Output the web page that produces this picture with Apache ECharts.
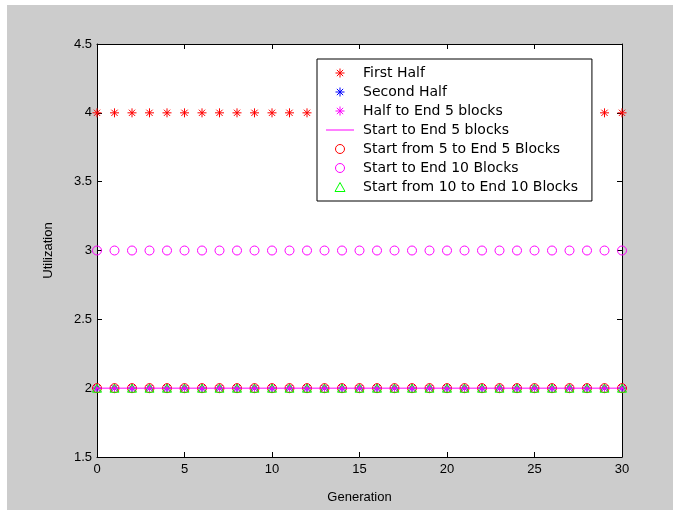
<!DOCTYPE html>
<html>
<head>
<meta charset="utf-8">
<script src="https://cdn.jsdelivr.net/npm/echarts@6/dist/echarts.min.js"></script>
<style>
  body { margin: 0; background: #fff; }
  #main { position: absolute; left: 7px; top: 5px; width: 666px; height: 505px; }
</style>
</head>
<body>
<div id="main"></div>
<script>
// data
var generations = [0,1,2,3,4,5,6,7,8,9,10,11,12,13,14,15,16,17,18,19,20,21,22,23,24,25,26,27,28,29,30];
var firstHalf       = [4,4,4,4,4,4,4,4,4,4,4,4,4,4,4,4,4,4,4,4,4,4,4,4,4,4,4,4,4,4,4];
var secondHalf      = [2,2,2,2,2,2,2,2,2,2,2,2,2,2,2,2,2,2,2,2,2,2,2,2,2,2,2,2,2,2,2];
var halfToEnd5      = [2,2,2,2,2,2,2,2,2,2,2,2,2,2,2,2,2,2,2,2,2,2,2,2,2,2,2,2,2,2,2];
var startToEnd5     = [2,2,2,2,2,2,2,2,2,2,2,2,2,2,2,2,2,2,2,2,2,2,2,2,2,2,2,2,2,2,2];
var from5ToEnd5     = [2,2,2,2,2,2,2,2,2,2,2,2,2,2,2,2,2,2,2,2,2,2,2,2,2,2,2,2,2,2,2];
var startToEnd10    = [3,3,3,3,3,3,3,3,3,3,3,3,3,3,3,3,3,3,3,3,3,3,3,3,3,3,3,3,3,3,3];
var from10ToEnd10   = [2,2,2,2,2,2,2,2,2,2,2,2,2,2,2,2,2,2,2,2,2,2,2,2,2,2,2,2,2,2,2];
var seriesNames = ['First Half', 'Second Half', 'Half to End 5 blocks', 'Start to End 5 blocks',
  'Start from 5 to End 5 Blocks', 'Start to End 10 Blocks', 'Start from 10 to End 10 Blocks'];
var xTicks = [0, 5, 10, 15, 20, 25, 30];
var yTicks = [1.5, 2, 2.5, 3, 3.5, 4, 4.5];

var star = 'path://M5,0L5,10M0,5L10,5M1.5,1.5L8.5,8.5M1.5,8.5L8.5,1.5';
var tri = 'path://M5,0L10,9L0,9Z';

function pairs(ys) {
  return generations.map(function (g, i) { return [g, ys[i]]; });
}

function markers(name, ys, symbol, color) {
  return {
    name: name,
    type: 'scatter',
    data: pairs(ys),
    symbol: symbol,
    symbolSize: 9,
    symbolKeepAspect: true,
    clip: false,
    itemStyle: { color: 'none', borderColor: color, borderWidth: 1, opacity: 1 },
    emphasis: { disabled: true }
  };
}

var myChart = echarts.init(document.getElementById('main'));

var axisCommon = {
  type: 'value',
  axisLine: { show: true, onZero: false, lineStyle: { color: '#000', width: 1 } },
  axisTick: { show: true, inside: true, length: 5, lineStyle: { color: '#000' } },
  splitLine: { show: false }
};

var legendData = seriesNames.map(function (n, i) {
  if (i === 3) {
    return { name: n, icon: 'path://M0,0L28,0L28,1L0,1Z',
      itemStyle: { color: '#ff00ff', borderWidth: 0 } };
  }
  return { name: n };
});

var option = {
  backgroundColor: '#cccccc',
  animation: false,
  textStyle: { fontFamily: 'Liberation Sans' },
  grid: {
    left: 90, top: 39, right: 51, bottom: 53,
    show: true, backgroundColor: '#fff', borderWidth: 0
  },
  legend: {
    orient: 'vertical',
    left: 310, top: 54,
    data: legendData,
    backgroundColor: '#fff',
    borderColor: '#000',
    borderWidth: 1,
    borderRadius: 0,
    padding: [7, 14, 7, 9],
    itemWidth: 28,
    itemHeight: 9,
    itemGap: 5,
    itemStyle: { borderWidth: 1 },
    textStyle: { fontFamily: 'DejaVu Sans', fontSize: 14, lineHeight: 14, color: '#000', padding: [0, 0, 0, 4] },
    selectedMode: false
  },
  xAxis: [
    Object.assign({}, axisCommon, {
      position: 'bottom', min: 0, max: 30, interval: 5,
      name: 'Generation', nameLocation: 'middle', nameGap: 34,
      nameTextStyle: { color: '#000', fontSize: 13 },
      axisLabel: { color: '#000', fontSize: 13, margin: 6,
        formatter: function (v) { return xTicks.indexOf(v) >= 0 ? String(v) : ''; } }
    }),
    Object.assign({}, axisCommon, {
      position: 'top', min: 0, max: 30, interval: 5,
      axisLabel: { show: false }
    })
  ],
  yAxis: [
    Object.assign({}, axisCommon, {
      position: 'left', min: 1.5, max: 4.5, interval: 0.5,
      name: 'Utilization', nameLocation: 'middle', nameGap: 42,
      nameTextStyle: { color: '#000', fontSize: 13 },
      axisLabel: { color: '#000', fontSize: 13, margin: 5,
        formatter: function (v) { return yTicks.indexOf(v) >= 0 ? String(v) : ''; } }
    }),
    Object.assign({}, axisCommon, {
      position: 'right', min: 1.5, max: 4.5, interval: 0.5,
      axisLabel: { show: false }
    })
  ],
  series: [
    markers(seriesNames[0], firstHalf, star, '#ff0000'),
    markers(seriesNames[1], secondHalf, star, '#0000ff'),
    markers(seriesNames[2], halfToEnd5, star, '#ff00ff'),
    {
      name: seriesNames[3],
      type: 'line',
      data: pairs(startToEnd5),
      symbol: 'none',
      clip: false,
      lineStyle: { color: '#ff00ff', width: 1 },
      itemStyle: { color: '#ff00ff' },
      emphasis: { disabled: true }
    },
    markers(seriesNames[4], from5ToEnd5, 'circle', '#ff0000'),
    markers(seriesNames[5], startToEnd10, 'circle', '#ff00ff'),
    markers(seriesNames[6], from10ToEnd10, tri, '#00ff00')
  ]
};

myChart.setOption(option);
</script>
</body>
</html>
